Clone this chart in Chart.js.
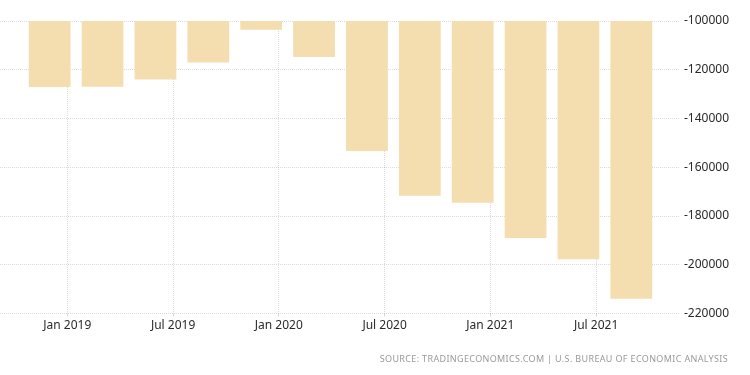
<!DOCTYPE html>
<html>
<head>
<meta charset="utf-8">
<script src="https://cdn.jsdelivr.net/npm/chart.js@4"></script>
<style>
  html, body { margin: 0; padding: 0; background: #fff; }
  #wrap { position: relative; width: 750px; height: 375px; }
  #source {
    position: absolute; right: 22px; top: 352px;
    font: 9px "Noto Sans", sans-serif; letter-spacing: 0.35px;
    color: #999; white-space: nowrap;
  }
</style>
</head>
<body>
<div id="wrap">
  <canvas id="chart" width="750" height="375"></canvas>
  <div id="source">SOURCE: TRADINGECONOMICS.COM | U.S. BUREAU OF ECONOMIC ANALYSIS</div>
</div>
<script>
// 季度数据（按月份放置）
const periods = ['2018-12', '2019-03', '2019-06', '2019-09', '2019-12', '2020-03',
                 '2020-06', '2020-09', '2020-12', '2021-03', '2021-06', '2021-09'];
const balance = [-127100, -127000, -124000, -117000, -103600, -114800,
                 -153300, -171700, -174500, -189000, -197700, -213900];

// x 轴刻度
const tickPeriods = ['2019-01', '2019-07', '2020-01', '2020-07', '2021-01', '2021-07'];
const tickLabels = ['Jan 2019', 'Jul 2019', 'Jan 2020', 'Jul 2020', 'Jan 2021', 'Jul 2021'];

// y 轴范围
const yMin = -220000;
const yMax = -100000;
const yStep = 20000;

// 距 2019-01 的月数
function monthIndex(p) {
  const [y, m] = p.split('-').map(Number);
  return (y - 2019) * 12 + (m - 1);
}

const tickValues = tickPeriods.map(monthIndex);
const gridColor = 'rgba(0, 0, 0, 0.14)';

new Chart(document.getElementById('chart').getContext('2d'), {
  type: 'bar',
  data: {
    datasets: [{
      data: periods.map((p, i) => ({ x: monthIndex(p), y: balance[i] })),
      backgroundColor: '#F4DEB0',
      borderWidth: 0,
      barPercentage: 0.79,
      categoryPercentage: 1
    }]
  },
  options: {
    responsive: false,
    animation: false,
    layout: { padding: { top: 21, right: 17, bottom: 40, left: 0 } },
    plugins: {
      legend: { display: false },
      tooltip: { enabled: false }
    },
    scales: {
      x: {
        type: 'linear',
        min: -3.82,
        max: 34.76,
        offset: false,
        afterBuildTicks: axis => {
          axis.ticks = tickValues.map(v => ({ value: v }));
        },
        ticks: {
          autoSkip: false,
          maxRotation: 0,
          padding: 2,
          color: '#2a2a2a',
          font: { family: 'Noto Sans', size: 12 },
          callback: v => tickLabels[tickValues.indexOf(v)]
        },
        grid: { color: gridColor, tickLength: 3, offset: false },
        border: { display: false, dash: [1, 1] }
      },
      y: {
        position: 'right',
        min: yMin,
        max: yMax,
        ticks: {
          stepSize: yStep,
          padding: 4,
          color: '#2a2a2a',
          font: { family: 'Noto Sans', size: 12 },
          callback: v => String(v)
        },
        grid: { color: gridColor, drawTicks: false },
        border: { display: false, dash: [1, 1] }
      }
    }
  }
});
</script>
</body>
</html>
